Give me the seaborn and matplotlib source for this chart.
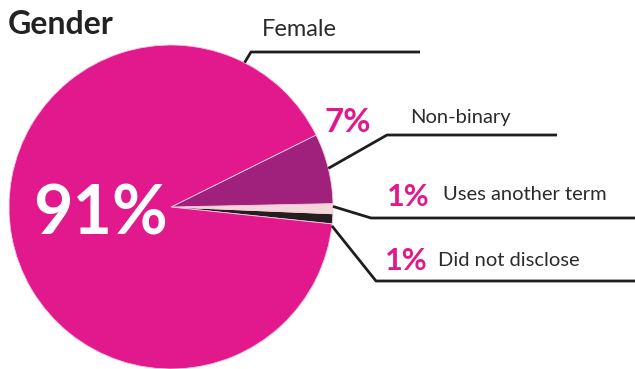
import numpy as np
import matplotlib
matplotlib.use("Agg")
import matplotlib.pyplot as plt
import seaborn as sns

# Gender breakdown (percent)
categories = ["Did not disclose", "Uses another term", "Non-binary", "Female"]
values = [1, 1, 7, 91]
pct_labels = ["1%", "1%", "7%", "91%"]
colors = ["#231F20", "#F4D5D8", "#A0217C", "#E2198C"]

sns.set_theme(style="white")
plt.rcParams["font.family"] = ["Lato", "DejaVu Sans"]

W, H = 635, 369
fig = plt.figure(figsize=(W / 100, H / 100), dpi=100)
ax = fig.add_axes([0, 0, 1, 1])
ax.set_xlim(0, W)
ax.set_ylim(0, H)
ax.set_aspect("equal")
ax.axis("off")

cx, cy, R = 171, H - 207, 162
wedges, _ = ax.pie(values, colors=colors, startangle=-6, counterclock=True,
                   center=(cx, cy), radius=R, frame=True,
                   wedgeprops=dict(linewidth=0.6, edgecolor="#F7C9DF"))
ax.set_xlim(0, W)
ax.set_ylim(0, H)
ax.axis("off")

MAG = "#E2198C"
TXT = "#2B2B2B"
LINE = "#1E1E1E"

def edge_point(angle_deg):
    a = np.deg2rad(angle_deg)
    return cx + R * np.cos(a), cy + R * np.sin(a)

# leader lines: (angle on rim, elbow point, right end of horizontal)
mids = [(w.theta1 + w.theta2) / 2 for w in wedges]
leaders = {
    "Female": (63, (251, H - 52), 420),
    "Non-binary": (mids[2], (387, H - 135), 557),
    "Uses another term": (mids[1] + 0.8, (371, H - 218), 640),
    "Did not disclose": (mids[0] - 2.5, (376, H - 281), 640),
}
for name, (ang, elbow, xend) in leaders.items():
    x0, y0 = edge_point(ang)
    ax.plot([x0, elbow[0], xend], [y0, elbow[1], elbow[1]],
            color=LINE, lw=2.0, solid_capstyle="butt", clip_on=False)

# big share inside the pie
ax.text(101, H - 215, pct_labels[3], color="white", fontsize=49,
        fontweight="bold", ha="center", va="center")

# category labels
ax.text(262, H - 29, "Female", color=TXT, fontsize=17, fontweight="normal",
        ha="left", va="center")
ax.text(324, H - 123, pct_labels[2], color=MAG, fontsize=24,
        fontweight="bold", ha="left", va="center")
ax.text(410, H - 117, "Non-binary", color=TXT, fontsize=14.5,
        fontweight="normal", ha="left", va="center")
ax.text(387, H - 197, pct_labels[1], color=MAG, fontsize=22,
        fontweight="bold", ha="left", va="center")
ax.text(443, H - 194, "Uses another term", color=TXT, fontsize=14.5,
        fontweight="normal", ha="left", va="center")
ax.text(385, H - 261, pct_labels[0], color=MAG, fontsize=22,
        fontweight="bold", ha="left", va="center")
ax.text(438, H - 260, "Did not disclose", color=TXT, fontsize=14.5,
        fontweight="normal", ha="left", va="center")

# title
ax.text(8, H - 25, "Gender", color="#222222", fontsize=23,
        fontweight="bold", ha="left", va="center")

fig.savefig("out.png", dpi=100)
